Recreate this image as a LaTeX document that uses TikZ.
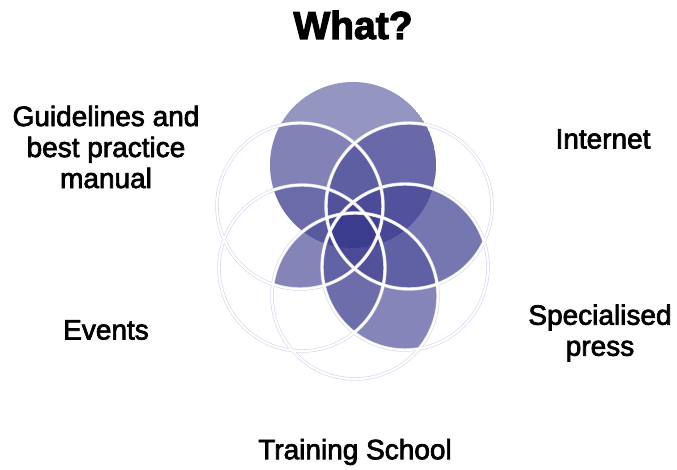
\documentclass[tikz,border=0pt]{standalone}
\usepackage{fontspec}
\setmainfont{Liberation Sans}
\newfontfamily\lblfont{Liberation Sans}[FakeBold=2.5]
\newfontfamily\ttlfont{Liberation Sans Bold}[FakeBold=3]
\definecolor{dk}{RGB}{45,45,135}
\definecolor{ringshade}{RGB}{212,212,234}
\newcommand\ringr{83pt}
\newcommand\petallayers{%
  \fill[dk,fill opacity=.505] (cT)  circle[radius=\ringr];
  \fill[dk,fill opacity=.18]  (cTL) circle[radius=\ringr];
  \fill[dk,fill opacity=.42]  (cTR) circle[radius=\ringr];
  \fill[dk,fill opacity=.40]  (cMR) circle[radius=\ringr];
  \fill[dk,fill opacity=.30]  (cB)  circle[radius=\ringr];
  \fill[dk,fill opacity=.27]  (cML) circle[radius=\ringr];
}
\newcommand\outside[1]{\clip (-20,-20) rectangle (700,490) (#1) circle[radius=\ringr];}
\newcommand\inside[1]{\clip (#1) circle[radius=\ringr];}
\tikzset{
  lbl/.style={font=\lblfont\fontsize{28}{31}\selectfont, align=center, text=black, inner sep=0pt},
  ttl/.style={font=\ttlfont\fontsize{39}{44}\selectfont, text=black, inner sep=0pt},
  ringshadow/.style={draw=ringshade, line width=3.4pt},
  ringwhite/.style={draw=white, line width=2.2pt}
}
\begin{document}
\begin{tikzpicture}[x=1pt,y=-1pt]
\useasboundingbox (0,0) rectangle (677,470);
\coordinate (cT)  at (353,165);
\coordinate (cTL) at (300,206);
\coordinate (cTR) at (409,206);
\coordinate (cMR) at (405,267);
\coordinate (cB)  at (355,296);
\coordinate (cML) at (302,268);
% top disc
\begin{scope}\inside{cT}\petallayers\end{scope}
% right petal
\begin{scope}[even odd rule]\outside{cT}\inside{cTR}\inside{cMR}\petallayers\end{scope}
% lower right petal
\begin{scope}[even odd rule]\outside{cT}\outside{cTR}\inside{cMR}\inside{cB}\petallayers\end{scope}
% lower left petal
\begin{scope}[even odd rule]\outside{cT}\outside{cMR}\inside{cB}\inside{cTL}\petallayers\end{scope}
% rings
\foreach \c in {cTL,cTR,cMR,cB,cML} {\draw[ringshadow] (\c) circle[radius=\ringr];}
\foreach \c in {cTL,cTR,cMR,cB,cML} {\draw[ringwhite] (\c) circle[radius=\ringr];}
% labels
\node[ttl] (title) at (353,25) {What?};
\node[lbl] (guide) at (106,147) {Guidelines and\\best practice\\manual};
\node[lbl] (internet) at (603,139) {Internet};
\node[lbl] (press) at (600,333) {Specialised\\press};
\node[lbl] (events) at (106,330) {Events};
\node[lbl] (school) at (355,452) {Training School};
\end{tikzpicture}
\end{document}
